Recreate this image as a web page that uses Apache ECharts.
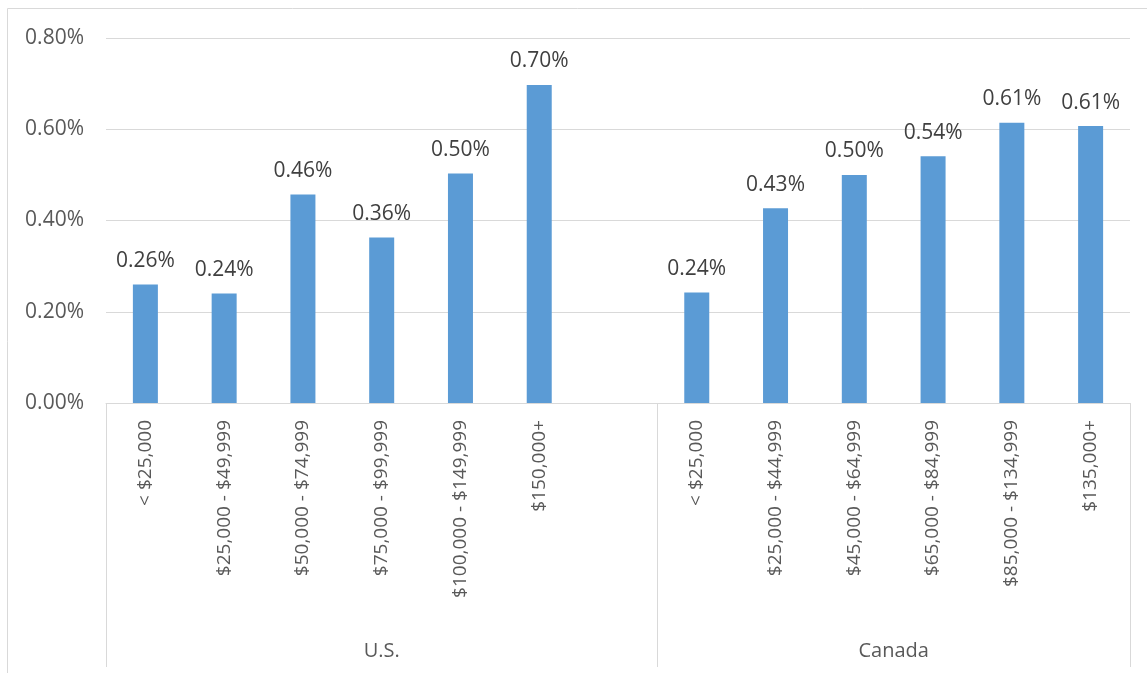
<!DOCTYPE html>
<html>
<head>
<meta charset="utf-8">
<script src="https://cdn.jsdelivr.net/npm/echarts@6/dist/echarts.min.js"></script>
<style>
    html, body { margin: 0; padding: 0; background: #fff; }
    #chart { width: 1147px; height: 673px; }
</style>
</head>
<body>
<div id="chart"></div>
<script>
// categories: US brackets, one empty slot, Canada brackets
const categories = [
    '< $25,000', '$25,000 - $49,999', '$50,000 - $74,999', '$75,000 - $99,999',
    '$100,000 - $149,999', '$150,000+',
    '',
    '< $25,000', '$25,000 - $44,999', '$45,000 - $64,999', '$65,000 - $84,999',
    '$85,000 - $134,999', '$135,000+'
]
// values in %
const values = [0.26, 0.24, 0.457, 0.363, 0.503, 0.697, '-', 0.242, 0.427, 0.50, 0.541, 0.614, 0.607]
const groups = ['U.S.', 'Canada']
const groupBounds = [0, 7, 13]      // slot boundaries of the groups
const groupCenters = [3.5, 10]
const yTicks = { min: 0, max: 0.8, interval: 0.2 }

const FONT = 'Open Sans'

function draw() {
    const chart = echarts.init(document.getElementById('chart'))
    chart.setOption(getOptions())
}

function getOptions() {
    return {
        animation: false,
        textStyle: { fontFamily: FONT },
        grid: { left: 106, right: 17, top: 38, bottom: 270 },
        graphic: [{
            type: 'rect',
            shape: { x: 7.5, y: 8.5, width: 1160, height: 700 },
            style: { fill: null, stroke: '#d9d9d9', lineWidth: 1 },
            silent: true
        }],
        xAxis: [
            {
                type: 'category',
                data: categories,
                axisLine: { lineStyle: { color: '#d9d9d9' } },
                axisTick: { show: false },
                axisLabel: {
                    interval: 0,
                    rotate: 90,
                    margin: 17,
                    color: '#595959',
                    fontSize: 19,
                    fontFamily: FONT
                }
            },
            {
                type: 'value',
                position: 'bottom',
                min: 0,
                max: 13,
                axisLine: { show: false },
                splitLine: { show: false },
                axisTick: {
                    show: true,
                    customValues: groupBounds,
                    length: 264,
                    lineStyle: { color: '#d9d9d9' }
                },
                axisLabel: {
                    customValues: groupCenters,
                    margin: 238,
                    color: '#595959',
                    fontSize: 20,
                    fontFamily: FONT,
                    formatter: function (v) {
                        return v < groupBounds[1] ? groups[0] : groups[1]
                    }
                }
            }
        ],
        yAxis: {
            type: 'value',
            min: yTicks.min,
            max: yTicks.max,
            interval: yTicks.interval,
            axisLine: { show: false },
            axisTick: { show: false },
            splitLine: { lineStyle: { color: '#d9d9d9' } },
            axisLabel: {
                margin: 22,
                color: '#595959',
                fontSize: 21,
                fontFamily: FONT,
                formatter: function (v) { return v.toFixed(2) + '%' }
            }
        },
        series: [{
            type: 'bar',
            data: values,
            barWidth: 25,
            itemStyle: { color: '#5b9bd5' },
            label: {
                show: true,
                position: 'top',
                distance: 13,
                color: '#404040',
                fontSize: 21,
                fontFamily: FONT,
                formatter: function (p) { return p.value.toFixed(2) + '%' }
            }
        }]
    }
}

draw()
</script>
</body>
</html>
